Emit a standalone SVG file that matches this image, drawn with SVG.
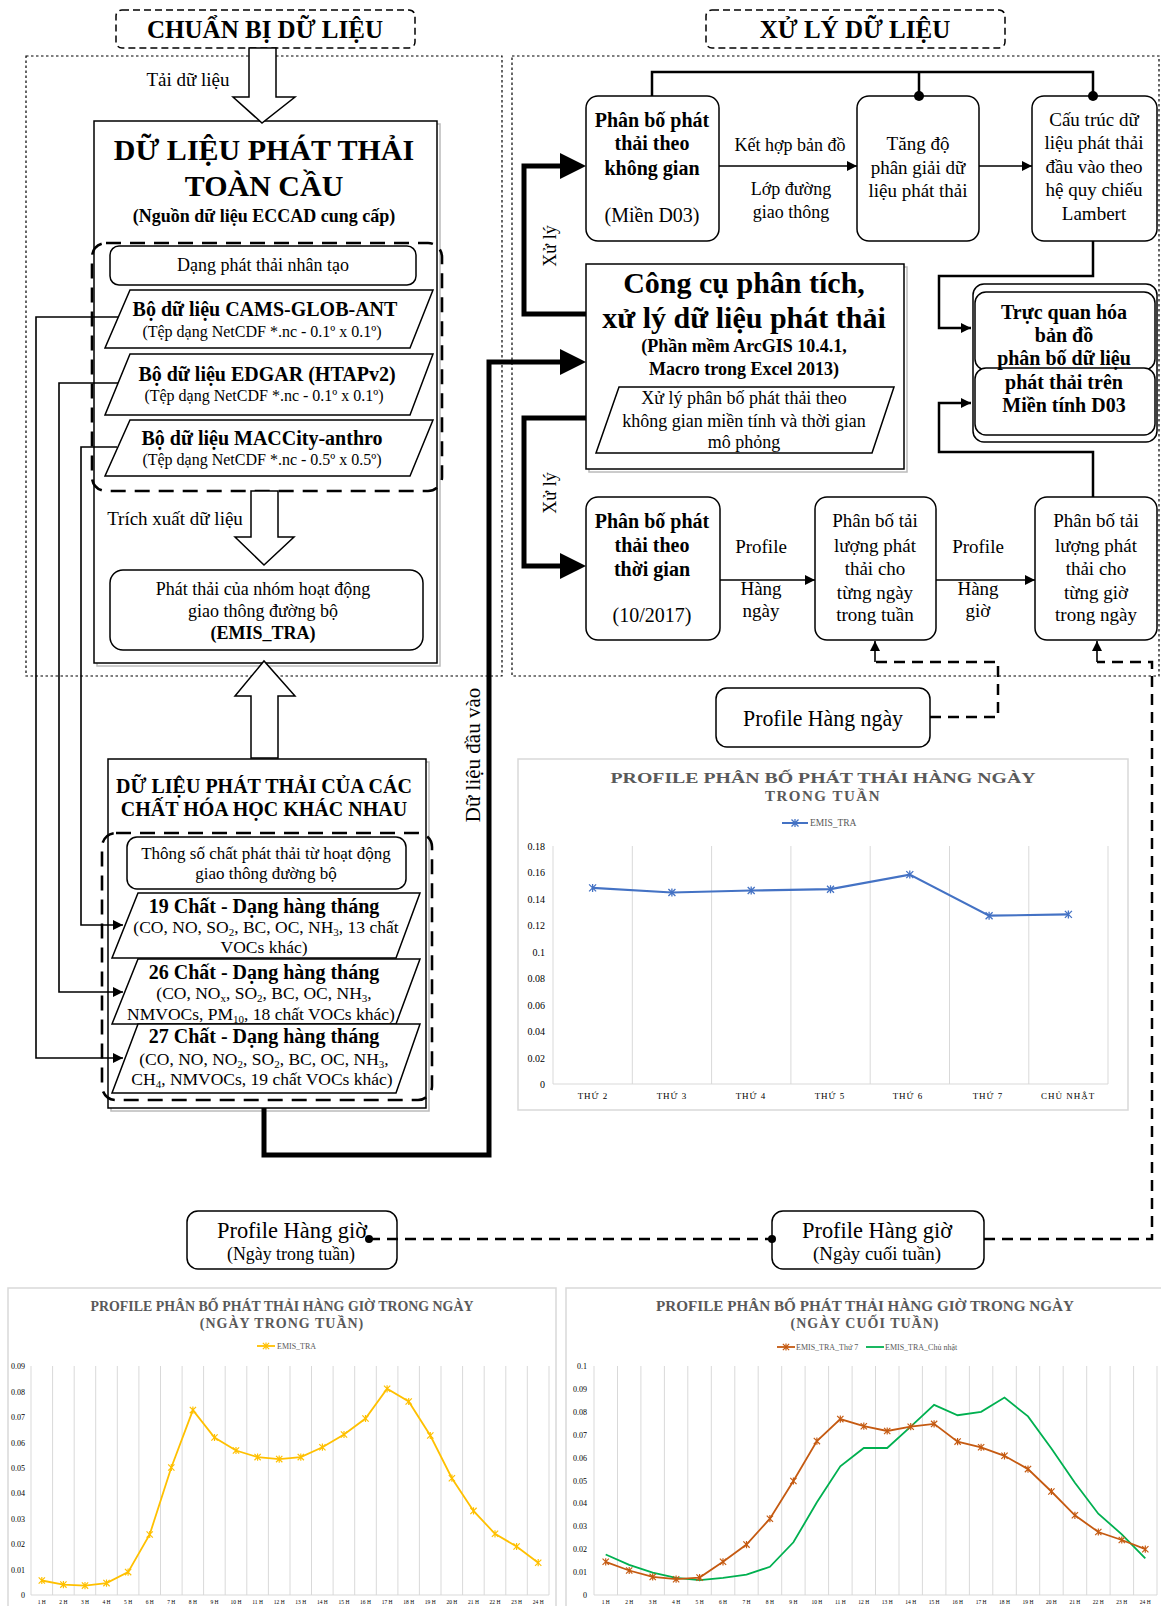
<svg xmlns="http://www.w3.org/2000/svg" width="1161" height="1606" viewBox="0 0 1161 1606">
<style>
text{font-family:"Liberation Serif","Times New Roman",serif;fill:#000}
.m{text-anchor:middle}
.b{font-weight:bold}
.box{fill:#fff;stroke:#000;stroke-width:1.5}
.shadow{fill:#fff;stroke:#bbb;stroke-width:1.5}
.dot{fill:none;stroke:#000;stroke-width:1.2;stroke-dasharray:2.5 2.5}
.hdr{fill:#fff;stroke:#000;stroke-width:1.5;stroke-dasharray:7 4}
.cont{fill:none;stroke:#000;stroke-width:2.6;stroke-dasharray:15 9}
.hol{fill:#fff;stroke:#000;stroke-width:1.5}
.thin{fill:none;stroke:#000;stroke-width:1.6}
.thick{fill:none;stroke:#000;stroke-width:5}
.dash{fill:none;stroke:#000;stroke-width:2.5;stroke-dasharray:11 7}
.mid{fill:none;stroke:#000;stroke-width:2.5}
.cf{fill:#fff;stroke:#d9d9d9;stroke-width:1.5}
.grid{stroke:#d9d9d9;stroke-width:1}
.ct{fill:#595959;font-weight:bold}
.cl{fill:#595959}
</style>
<defs>
<marker id="a" viewBox="0 0 10 10" refX="10" refY="5" markerWidth="10" markerHeight="10" markerUnits="userSpaceOnUse" orient="auto"><path d="M0,0L10,5L0,10z" fill="#000"/></marker>
<marker id="sb" viewBox="-5 -5 10 10" markerWidth="10" markerHeight="10" markerUnits="userSpaceOnUse"><path d="M-3.5,-3.5L3.5,3.5M-3.5,3.5L3.5,-3.5M0,-4V4" stroke="#4472C4" stroke-width="1.3" fill="none"/></marker>
<marker id="sy" viewBox="-5 -5 10 10" markerWidth="9" markerHeight="9" markerUnits="userSpaceOnUse"><path d="M-3.5,-3.5L3.5,3.5M-3.5,3.5L3.5,-3.5M0,-4V4" stroke="#FFC000" stroke-width="1.3" fill="none"/></marker>
<marker id="so" viewBox="-5 -5 10 10" markerWidth="9" markerHeight="9" markerUnits="userSpaceOnUse"><path d="M-3.5,-3.5L3.5,3.5M-3.5,3.5L3.5,-3.5M0,-4V4" stroke="#C55A11" stroke-width="1.3" fill="none"/></marker>
</defs>

<g id="panels">
<rect class="dot" x="26" y="56" width="476" height="620"/>
<rect class="dot" x="512" y="56" width="647" height="620"/>
</g>

<g id="hdr-left"><rect class="hdr" x="116" y="10" width="299" height="38" rx="6"/><text class="m b" x="265" y="38" font-size="25">CHUẨN BỊ DỮ LIỆU</text></g>
<g id="hdr-right"><rect class="hdr" x="706" y="10" width="299" height="38" rx="6"/><text class="m b" x="855" y="38" font-size="25">XỬ LÝ DỮ LIỆU</text></g>

<g id="global">
<rect class="shadow" x="97" y="124" width="343" height="542"/>
<rect class="box" x="94" y="121" width="343" height="542" stroke-width="1"/>
<text class="m b" x="264" y="160" font-size="30">DỮ LIỆU PHÁT THẢI</text>
<text class="m b" x="264" y="196" font-size="30">TOÀN CẦU</text>
<text class="m b" x="264" y="222" font-size="18">(Nguồn dữ liệu ECCAD cung cấp)</text>
<rect class="cont" x="92" y="243" width="350" height="248" rx="14"/>
</g>
<g id="anthro"><rect class="box" x="110" y="246" width="306" height="39" rx="9"/><text class="m" x="263" y="271" font-size="18">Dạng phát thải nhân tạo</text></g>
<g id="cams"><polygon class="box" points="130,290 433,290 410,348 105,348"/><text class="m b" x="265" y="316" font-size="20">Bộ dữ liệu CAMS-GLOB-ANT</text><text class="m" x="262" y="337" font-size="16">(Tệp dạng NetCDF *.nc - 0.1º x 0.1º)</text></g>
<g id="edgar"><polygon class="box" points="130,354 433,354 410,415 105,415"/><text class="m b" x="267" y="381" font-size="20">Bộ dữ liệu EDGAR (HTAPv2)</text><text class="m" x="264" y="401" font-size="16">(Tệp dạng NetCDF *.nc - 0.1º x 0.1º)</text></g>
<g id="maccity"><polygon class="box" points="130,420 433,420 410,476 105,476"/><text class="m b" x="262" y="445" font-size="20">Bộ dữ liệu MACCity-anthro</text><text class="m" x="262" y="465" font-size="16">(Tệp dạng NetCDF *.nc - 0.5º x 0.5º)</text></g>
<g id="emis"><rect class="box" x="110" y="570" width="313" height="80" rx="13"/><text class="m" x="263" y="595" font-size="18">Phát thải của nhóm hoạt động</text><text class="m" x="263" y="617" font-size="18">giao thông đường bộ</text><text class="m b" x="263" y="639" font-size="18">(EMIS_TRA)</text></g>

<g id="chem">
<rect class="shadow" x="111" y="762" width="318" height="349"/>
<rect class="box" x="108" y="759" width="318" height="349" stroke-width="1"/>
<text class="m b" x="264" y="793" font-size="20">DỮ LIỆU PHÁT THẢI CỦA CÁC</text>
<text class="m b" x="264" y="816" font-size="20">CHẤT HÓA HỌC KHÁC NHAU</text>
<rect class="cont" x="102" y="833" width="330" height="267" rx="14"/>
</g>
<g id="param"><rect class="box" x="127" y="837" width="279" height="52" rx="10"/><text class="m" x="266" y="859" font-size="17">Thông số chất phát thải từ hoạt động</text><text class="m" x="266" y="879" font-size="17">giao thông đường bộ</text></g>
<g id="c19"><polygon class="box" points="138,893 420,893 396,958 112,958"/><text class="m b" x="264" y="913" font-size="20">19 Chất - Dạng hàng tháng</text><text class="m" x="266" y="933" font-size="17.5">(CO, NO, SO<tspan font-size="11" dy="3">2</tspan><tspan dy="-3">, BC, OC, NH</tspan><tspan font-size="11" dy="3">3</tspan><tspan dy="-3">, 13 chất</tspan></text><text class="m" x="264" y="953" font-size="17.5">VOCs khác)</text></g>
<g id="c26"><polygon class="box" points="138,959 420,959 396,1024 112,1024"/><text class="m b" x="264" y="979" font-size="20">26 Chất - Dạng hàng tháng</text><text class="m" x="264" y="999" font-size="17.5">(CO, NO<tspan font-size="11" dy="3">x</tspan><tspan dy="-3">, SO</tspan><tspan font-size="11" dy="3">2</tspan><tspan dy="-3">, BC, OC, NH</tspan><tspan font-size="11" dy="3">3</tspan><tspan dy="-3">,</tspan></text><text class="m" x="261" y="1020" font-size="17.5">NMVOCs, PM<tspan font-size="11" dy="3">10</tspan><tspan dy="-3">, 18 chất VOCs khác)</tspan></text></g>
<g id="c27"><polygon class="box" points="138,1024 420,1024 396,1093 112,1093"/><text class="m b" x="264" y="1043" font-size="20">27 Chất - Dạng hàng tháng</text><text class="m" x="264" y="1065" font-size="17.5">(CO, NO, NO<tspan font-size="11" dy="3">2</tspan><tspan dy="-3">, SO</tspan><tspan font-size="11" dy="3">2</tspan><tspan dy="-3">, BC, OC, NH</tspan><tspan font-size="11" dy="3">3</tspan><tspan dy="-3">,</tspan></text><text class="m" x="262" y="1085" font-size="17.5">CH<tspan font-size="11" dy="3">4</tspan><tspan dy="-3">, NMVOCs, 19 chất VOCs khác)</tspan></text></g>

<g id="space"><rect class="box" x="586" y="96" width="133" height="145" rx="12"/><text class="m b" x="652" y="127" font-size="20">Phân bố phát</text><text class="m b" x="652" y="150" font-size="20">thải theo</text><text class="m b" x="652" y="175" font-size="20">không gian</text><text class="m" x="652" y="222" font-size="20">(Miền D03)</text></g>
<g id="resol"><rect class="box" x="857" y="96" width="122" height="145" rx="12"/><text class="m" x="918" y="150" font-size="19">Tăng độ</text><text class="m" x="918" y="174" font-size="19">phân giải dữ</text><text class="m" x="918" y="197" font-size="19">liệu phát thải</text></g>
<g id="lambert"><rect class="box" x="1032" y="96" width="125" height="145" rx="12"/><text class="m" x="1094" y="126" font-size="19">Cấu trúc dữ</text><text class="m" x="1094" y="149" font-size="19">liệu phát thải</text><text class="m" x="1094" y="173" font-size="19">đầu vào theo</text><text class="m" x="1094" y="196" font-size="19">hệ quy chiếu</text><text class="m" x="1094" y="220" font-size="19">Lambert</text></g>
<g id="tool">
<rect class="shadow" x="589" y="267" width="318" height="205"/>
<rect class="box" x="586" y="264" width="318" height="205" stroke-width="1"/>
<text class="m b" x="744" y="293" font-size="30">Công cụ phân tích,</text>
<text class="m b" x="744" y="328" font-size="30">xử lý dữ liệu phát thải</text>
<text class="m b" x="744" y="352" font-size="18">(Phần mềm ArcGIS 10.4.1,</text>
<text class="m b" x="744" y="375" font-size="18">Macro trong Excel 2013)</text>
<polygon class="box" points="619,387 894,387 872,453 596,453"/>
<text class="m" x="744" y="404" font-size="18">Xử lý phân bố phát thải theo</text>
<text class="m" x="744" y="427" font-size="18">không gian miền tính và thời gian</text>
<text class="m" x="744" y="448" font-size="18">mô phỏng</text>
</g>
<g id="visual">
<rect class="box" x="973" y="284" width="184" height="158" rx="11"/>
<rect class="box" x="975" y="292" width="180" height="78" rx="11"/>
<rect class="box" x="975" y="368" width="180" height="67" rx="11"/>
<text class="m b" x="1064" y="319" font-size="20">Trực quan hóa</text>
<text class="m b" x="1064" y="342" font-size="20">bản đồ</text>
<text class="m b" x="1064" y="365" font-size="20">phân bố dữ liệu</text>
<text class="m b" x="1064" y="389" font-size="20">phát thải trên</text>
<text class="m b" x="1064" y="412" font-size="20">Miền tính D03</text>
</g>
<g id="time"><rect class="box" x="586" y="497" width="134" height="143" rx="12"/><text class="m b" x="652" y="528" font-size="20">Phân bố phát</text><text class="m b" x="652" y="552" font-size="20">thải theo</text><text class="m b" x="652" y="576" font-size="20">thời gian</text><text class="m" x="652" y="622" font-size="20">(10/2017)</text></g>
<g id="daily"><rect class="box" x="815" y="497" width="121" height="143" rx="12"/><text class="m" x="875" y="527" font-size="19">Phân bố tải</text><text class="m" x="875" y="552" font-size="19">lượng phát</text><text class="m" x="875" y="575" font-size="19">thải cho</text><text class="m" x="875" y="599" font-size="19">từng ngày</text><text class="m" x="875" y="621" font-size="19">trong tuần</text></g>
<g id="hourly"><rect class="box" x="1035" y="497" width="122" height="143" rx="12"/><text class="m" x="1096" y="527" font-size="19">Phân bố tải</text><text class="m" x="1096" y="552" font-size="19">lượng phát</text><text class="m" x="1096" y="575" font-size="19">thải cho</text><text class="m" x="1096" y="599" font-size="19">từng giờ</text><text class="m" x="1096" y="621" font-size="19">trong ngày</text></g>
<g id="prof-day"><rect class="box" x="716" y="688" width="214" height="59" rx="11"/><text class="m" x="823" y="726" font-size="24" textLength="160" lengthAdjust="spacingAndGlyphs">Profile Hàng ngày</text></g>
<g id="prof-wd"><rect class="box" x="187" y="1211" width="210" height="58" rx="11"/><text class="m" x="292" y="1238" font-size="23" textLength="150" lengthAdjust="spacingAndGlyphs">Profile Hàng giờ</text><text class="m" x="291" y="1260" font-size="19" textLength="128" lengthAdjust="spacingAndGlyphs">(Ngày trong tuần)</text></g>
<g id="prof-we"><rect class="box" x="772" y="1211" width="212" height="58" rx="11"/><text class="m" x="877" y="1238" font-size="23" textLength="150" lengthAdjust="spacingAndGlyphs">Profile Hàng giờ</text><text class="m" x="877" y="1260" font-size="19" textLength="128" lengthAdjust="spacingAndGlyphs">(Ngày cuối tuần)</text></g>

<g id="arrows-hollow">
<polygon class="hol" points="249,48 276,48 276,97 295,97 262,123 233,97 249,97"/>
<polygon class="hol" points="251,491 278,491 278,537 294,537 264,565 235,537 251,537"/>
<polygon class="hol" points="251,758 278,758 278,696 295,696 264,661 235,696 251,696"/>
</g>

<g id="connectors">
<path class="thin" d="M118,317H36V1058H123" marker-end="url(#a)"/>
<path class="thin" d="M118,383H59V992H123" marker-end="url(#a)"/>
<path class="thin" d="M117,447H81V925H123" marker-end="url(#a)"/>
<path class="thick" d="M264,1108V1155H489V362H562"/>
<polygon points="560,349 586,362 560,375"/>
<path class="thick" d="M586,314H524V166H562"/>
<polygon points="560,153 586,166 560,179"/>
<path class="thick" d="M586,418H524V566H562"/>
<polygon points="560,553 586,566 560,579"/>
<path class="mid" d="M652,96V72H1093V96M919,72V96"/>
<circle cx="919" cy="96" r="5"/>
<circle cx="1093" cy="96" r="5"/>
<path class="thin" d="M719,166H857" stroke-width="2" marker-end="url(#a)"/>
<path class="thin" d="M979,166H1032" stroke-width="2" marker-end="url(#a)"/>
<path class="mid" d="M1093,241V276H939V328H971" marker-end="url(#a)"/>
<path class="mid" d="M1093,497V452H939V403H971" marker-end="url(#a)"/>
<path class="thin" d="M720,580H815" stroke-width="2" marker-end="url(#a)"/>
<path class="thin" d="M936,580H1035" stroke-width="2" marker-end="url(#a)"/>
<path class="dash" d="M930,717H998V662H875"/>
<path class="thin" d="M875,662V641" marker-end="url(#a)"/>
<path class="dash" d="M984,1239H1152V662H1097"/>
<path class="thin" d="M1097,662V641" marker-end="url(#a)"/>
<path class="dash" d="M369,1239H772"/>
<circle cx="369" cy="1239" r="4"/>
<circle cx="772" cy="1239" r="4"/>
<text class="m" x="790" y="151" font-size="18">Kết hợp bản đồ</text>
<text class="m" x="791" y="195" font-size="18">Lớp đường</text>
<text class="m" x="791" y="218" font-size="18">giao thông</text>
<text class="m" x="761" y="553" font-size="19">Profile</text>
<text class="m" x="761" y="595" font-size="19">Hàng</text>
<text class="m" x="761" y="617" font-size="19">ngày</text>
<text class="m" x="978" y="553" font-size="19">Profile</text>
<text class="m" x="978" y="595" font-size="19">Hàng</text>
<text class="m" x="978" y="617" font-size="19">giờ</text>
<text class="m" x="188" y="86" font-size="19">Tải dữ liệu</text>
<text class="m" x="175" y="525" font-size="19">Trích xuất dữ liệu</text>
<text class="m" font-size="18" transform="translate(556,246) rotate(-90)">Xử lý</text>
<text class="m" font-size="18" transform="translate(556,493) rotate(-90)">Xử lý</text>
<text class="m" font-size="21" transform="translate(480,755) rotate(-90)">Dữ liệu đầu vào</text>
</g>

<g id="chart-daily">
<rect class="cf" x="518" y="759" width="610" height="351"/>
<text class="m ct" x="823" y="783" font-size="15" textLength="425" lengthAdjust="spacingAndGlyphs">PROFILE PHÂN BỐ PHÁT THẢI HÀNG NGÀY</text>
<text class="m ct" x="823" y="801" font-size="15" letter-spacing="1.5">TRONG TUẦN</text>
<path d="M782,823L795,823L808,823" stroke="#4472C4" stroke-width="2" fill="none" marker-mid="url(#sb)"/>
<text class="cl" x="810" y="826" font-size="9.5">EMIS_TRA</text>
<g class="grid"><line x1="632.3" y1="846" x2="632.3" y2="1084"/><line x1="711.6" y1="846" x2="711.6" y2="1084"/><line x1="790.9" y1="846" x2="790.9" y2="1084"/><line x1="870.2" y1="846" x2="870.2" y2="1084"/><line x1="949.5" y1="846" x2="949.5" y2="1084"/><line x1="1028.8" y1="846" x2="1028.8" y2="1084"/><line x1="1108" y1="846" x2="1108" y2="1084"/><line x1="553" y1="846" x2="553" y2="1084"/><line x1="553" y1="1084" x2="1108" y2="1084"/></g>
<g class="cl" font-size="10" text-anchor="end"><text x="545" y="1088">0</text><text x="545" y="1061.5">0.02</text><text x="545" y="1035">0.04</text><text x="545" y="1008.5">0.06</text><text x="545" y="982">0.08</text><text x="545" y="955.5">0.1</text><text x="545" y="929">0.12</text><text x="545" y="902.5">0.14</text><text x="545" y="876">0.16</text><text x="545" y="849.5">0.18</text></g>
<g class="cl m" font-size="9" letter-spacing="1"><text x="593" y="1099">THỨ 2</text><text x="672" y="1099">THỨ 3</text><text x="751" y="1099">THỨ 4</text><text x="830" y="1099">THỨ 5</text><text x="908" y="1099">THỨ 6</text><text x="988" y="1099">THỨ 7</text><text x="1068" y="1099">CHỦ NHẬT</text></g>
<polyline points="592.6,887.9 671.9,892.5 751.2,890.5 830.5,889.2 909.8,874.6 989.1,915.7 1068.4,914.4" fill="none" stroke="#4472C4" stroke-width="2.2" marker-start="url(#sb)" marker-mid="url(#sb)" marker-end="url(#sb)"/>
</g>

<g id="chart-weekday">
<rect class="cf" x="8" y="1288" width="548" height="330"/>
<text class="m ct" x="282" y="1311" font-size="14" textLength="383" lengthAdjust="spacingAndGlyphs">PROFILE PHÂN BỐ PHÁT THẢI HÀNG GIỜ TRONG NGÀY</text>
<text class="m ct" x="282" y="1328" font-size="14" letter-spacing="1">(NGÀY TRONG TUẦN)</text>
<path d="M257,1346L266,1346L275,1346" stroke="#FFC000" stroke-width="1.8" fill="none" marker-mid="url(#sy)"/>
<text class="cl" x="277" y="1349" font-size="8">EMIS_TRA</text>
<g class="grid"><line x1="31" y1="1366" x2="31" y2="1595"/><line x1="52.6" y1="1366" x2="52.6" y2="1595"/><line x1="74.2" y1="1366" x2="74.2" y2="1595"/><line x1="95.7" y1="1366" x2="95.7" y2="1595"/><line x1="117.3" y1="1366" x2="117.3" y2="1595"/><line x1="138.9" y1="1366" x2="138.9" y2="1595"/><line x1="160.5" y1="1366" x2="160.5" y2="1595"/><line x1="182.1" y1="1366" x2="182.1" y2="1595"/><line x1="203.6" y1="1366" x2="203.6" y2="1595"/><line x1="225.2" y1="1366" x2="225.2" y2="1595"/><line x1="246.8" y1="1366" x2="246.8" y2="1595"/><line x1="268.4" y1="1366" x2="268.4" y2="1595"/><line x1="290" y1="1366" x2="290" y2="1595"/><line x1="311.5" y1="1366" x2="311.5" y2="1595"/><line x1="333.1" y1="1366" x2="333.1" y2="1595"/><line x1="354.7" y1="1366" x2="354.7" y2="1595"/><line x1="376.3" y1="1366" x2="376.3" y2="1595"/><line x1="397.9" y1="1366" x2="397.9" y2="1595"/><line x1="419.4" y1="1366" x2="419.4" y2="1595"/><line x1="441" y1="1366" x2="441" y2="1595"/><line x1="462.6" y1="1366" x2="462.6" y2="1595"/><line x1="484.2" y1="1366" x2="484.2" y2="1595"/><line x1="505.8" y1="1366" x2="505.8" y2="1595"/><line x1="527.3" y1="1366" x2="527.3" y2="1595"/><line x1="549" y1="1366" x2="549" y2="1595"/><line x1="31" y1="1595" x2="549" y2="1595"/></g>
<g class="cl" font-size="8" text-anchor="end"><text x="25" y="1598">0</text><text x="25" y="1572.6">0.01</text><text x="25" y="1547.2">0.02</text><text x="25" y="1521.8">0.03</text><text x="25" y="1496.4">0.04</text><text x="25" y="1471">0.05</text><text x="25" y="1445.6">0.06</text><text x="25" y="1420.2">0.07</text><text x="25" y="1394.8">0.08</text><text x="25" y="1369.4">0.09</text></g>
<g class="cl m" font-size="5.5"><text x="41.8" y="1604">1 H</text><text x="63.4" y="1604">2 H</text><text x="85" y="1604">3 H</text><text x="106.5" y="1604">4 H</text><text x="128.1" y="1604">5 H</text><text x="149.7" y="1604">6 H</text><text x="171.3" y="1604">7 H</text><text x="192.9" y="1604">8 H</text><text x="214.5" y="1604">9 H</text><text x="236" y="1604">10 H</text><text x="257.6" y="1604">11 H</text><text x="279.2" y="1604">12 H</text><text x="300.8" y="1604">13 H</text><text x="322.4" y="1604">14 H</text><text x="344" y="1604">15 H</text><text x="365.5" y="1604">16 H</text><text x="387.1" y="1604">17 H</text><text x="408.7" y="1604">18 H</text><text x="430.3" y="1604">19 H</text><text x="451.9" y="1604">20 H</text><text x="473.5" y="1604">21 H</text><text x="495" y="1604">22 H</text><text x="516.6" y="1604">23 H</text><text x="538.2" y="1604">24 H</text></g>
<polyline points="41.8,1580.5 63.4,1584.6 85,1585.6 106.5,1583.1 128.1,1572.1 149.7,1534.5 171.3,1467.5 192.9,1410.1 214.5,1437.5 236,1450.5 257.6,1457.1 279.2,1459.1 300.8,1457.1 322.4,1447.2 344,1434.5 365.5,1418.5 387.1,1388.8 408.7,1401.5 430.3,1435.5 451.9,1478.2 473.5,1510.9 495,1533.8 516.6,1546.5 538.2,1562.7" fill="none" stroke="#FFC000" stroke-width="1.8" marker-start="url(#sy)" marker-mid="url(#sy)" marker-end="url(#sy)"/>
</g>

<g id="chart-weekend">
<rect class="cf" x="566" y="1288" width="600" height="330"/>
<text class="m ct" x="865" y="1311" font-size="14" textLength="418" lengthAdjust="spacingAndGlyphs">PROFILE PHÂN BỐ PHÁT THẢI HÀNG GIỜ TRONG NGÀY</text>
<text class="m ct" x="865" y="1328" font-size="14" letter-spacing="1">(NGÀY CUỐI TUẦN)</text>
<path d="M777,1347L786,1347L795,1347" stroke="#C55A11" stroke-width="1.8" fill="none" marker-mid="url(#so)"/>
<text class="cl" x="796" y="1350" font-size="8">EMIS_TRA_Thứ 7</text>
<line x1="866" y1="1347" x2="884" y2="1347" stroke="#00B050" stroke-width="1.8"/>
<text class="cl" x="885" y="1350" font-size="8">EMIS_TRA_Chủ nhật</text>
<g class="grid"><line x1="594" y1="1366" x2="594" y2="1595"/><line x1="617.5" y1="1366" x2="617.5" y2="1595"/><line x1="640.9" y1="1366" x2="640.9" y2="1595"/><line x1="664.4" y1="1366" x2="664.4" y2="1595"/><line x1="687.8" y1="1366" x2="687.8" y2="1595"/><line x1="711.3" y1="1366" x2="711.3" y2="1595"/><line x1="734.8" y1="1366" x2="734.8" y2="1595"/><line x1="758.2" y1="1366" x2="758.2" y2="1595"/><line x1="781.7" y1="1366" x2="781.7" y2="1595"/><line x1="805.1" y1="1366" x2="805.1" y2="1595"/><line x1="828.6" y1="1366" x2="828.6" y2="1595"/><line x1="852.1" y1="1366" x2="852.1" y2="1595"/><line x1="875.5" y1="1366" x2="875.5" y2="1595"/><line x1="899" y1="1366" x2="899" y2="1595"/><line x1="922.4" y1="1366" x2="922.4" y2="1595"/><line x1="945.9" y1="1366" x2="945.9" y2="1595"/><line x1="969.4" y1="1366" x2="969.4" y2="1595"/><line x1="992.8" y1="1366" x2="992.8" y2="1595"/><line x1="1016.3" y1="1366" x2="1016.3" y2="1595"/><line x1="1039.7" y1="1366" x2="1039.7" y2="1595"/><line x1="1063.2" y1="1366" x2="1063.2" y2="1595"/><line x1="1086.7" y1="1366" x2="1086.7" y2="1595"/><line x1="1110.1" y1="1366" x2="1110.1" y2="1595"/><line x1="1133.6" y1="1366" x2="1133.6" y2="1595"/><line x1="1157" y1="1366" x2="1157" y2="1595"/><line x1="594" y1="1595" x2="1157" y2="1595"/></g>
<g class="cl" font-size="8" text-anchor="end"><text x="587" y="1598">0</text><text x="587" y="1575.1">0.01</text><text x="587" y="1552.2">0.02</text><text x="587" y="1529.3">0.03</text><text x="587" y="1506.4">0.04</text><text x="587" y="1483.5">0.05</text><text x="587" y="1460.6">0.06</text><text x="587" y="1437.7">0.07</text><text x="587" y="1414.8">0.08</text><text x="587" y="1391.9">0.09</text><text x="587" y="1369">0.1</text></g>
<g class="cl m" font-size="5.5"><text x="605.7" y="1604">1 H</text><text x="629.2" y="1604">2 H</text><text x="652.7" y="1604">3 H</text><text x="676.1" y="1604">4 H</text><text x="699.6" y="1604">5 H</text><text x="723" y="1604">6 H</text><text x="746.5" y="1604">7 H</text><text x="769.9" y="1604">8 H</text><text x="793.4" y="1604">9 H</text><text x="816.9" y="1604">10 H</text><text x="840.3" y="1604">11 H</text><text x="863.8" y="1604">12 H</text><text x="887.2" y="1604">13 H</text><text x="910.7" y="1604">14 H</text><text x="934.1" y="1604">15 H</text><text x="957.6" y="1604">16 H</text><text x="981.1" y="1604">17 H</text><text x="1004.5" y="1604">18 H</text><text x="1028" y="1604">19 H</text><text x="1051.4" y="1604">20 H</text><text x="1074.9" y="1604">21 H</text><text x="1098.3" y="1604">22 H</text><text x="1121.8" y="1604">23 H</text><text x="1145.3" y="1604">24 H</text></g>
<polyline points="605.7,1554.5 629.2,1564.8 652.7,1572.6 676.1,1577.8 699.6,1580.1 723,1577.8 746.5,1574.6 769.9,1566.8 793.4,1542.3 816.9,1502.3 840.3,1466.3 863.8,1448 887.2,1448 910.7,1426.7 934.1,1404.9 957.6,1415.2 981.1,1411.8 1004.5,1397.6 1028,1416.4 1051.4,1448.4 1074.9,1482.8 1098.3,1513.7 1121.8,1534.3 1145.3,1558.4" fill="none" stroke="#00B050" stroke-width="1.8"/>
<polyline points="605.7,1561.8 629.2,1570.5 652.7,1576.9 676.1,1579.2 699.6,1577.6 723,1561.8 746.5,1544.6 769.9,1518.7 793.4,1481 816.9,1441.1 840.3,1419.1 863.8,1426.2 887.2,1431 910.7,1426.7 934.1,1423.9 957.6,1441.6 981.1,1447.3 1004.5,1455.8 1028,1469.1 1051.4,1491.5 1074.9,1515.3 1098.3,1532 1121.8,1540 1145.3,1549.2" fill="none" stroke="#C55A11" stroke-width="1.8" marker-start="url(#so)" marker-mid="url(#so)" marker-end="url(#so)"/>
</g>
</svg>
